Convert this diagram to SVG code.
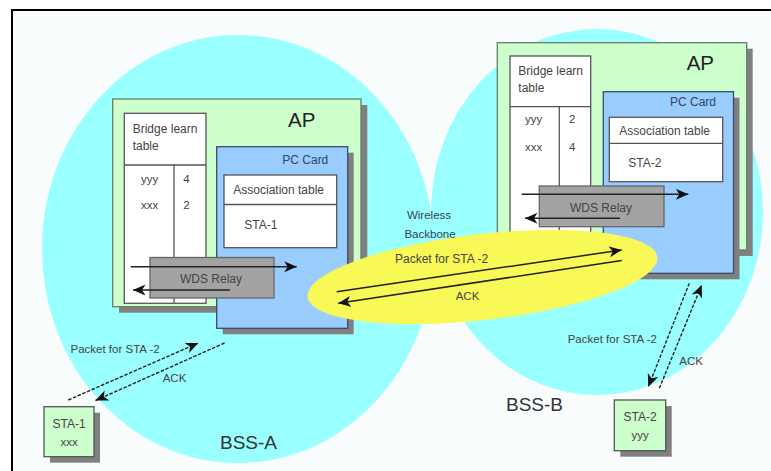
<svg xmlns="http://www.w3.org/2000/svg" width="771" height="471" viewBox="0 0 771 471">
<style>
.t{font-family:"Liberation Sans",Arial,sans-serif;fill:#444;}
.s12{font-size:12px;}
.s11{font-size:11.5px;}
.big{font-size:20.5px;fill:#222;}
.bss{font-size:19px;fill:#333;}
.sh{fill:#808080;}
.ap{fill:#ccffcc;stroke:#6b7b6b;stroke-width:1.3;}
.pc{fill:#99ccff;stroke:#3a4a6a;stroke-width:1.3;}
.tb{fill:#ffffff;stroke:#555;stroke-width:1.3;}
.ln{stroke:#555;stroke-width:1.3;fill:none;}
.wds{fill:#a3a3a3;stroke:#666;stroke-width:1.3;}
.sta{fill:#ccffcc;stroke:#555;stroke-width:1.3;}
.ar{stroke:#222;stroke-width:1.5;fill:none;marker-end:url(#ah);}
.da{stroke:#222;stroke-width:1.4;fill:none;stroke-dasharray:3.5 1.6;marker-end:url(#ah);}
.pc-t{fill:#334466;}
.wb{fill:#334455;}
</style>
<defs>
<marker id="ah" markerUnits="userSpaceOnUse" markerWidth="14" markerHeight="12" refX="12.5" refY="5.5" orient="auto">
<path d="M0,0 L12.5,5.5 L0,11 L3.5,5.5 z" fill="#111"/>
</marker>
</defs>
<rect x="0" y="0" width="771" height="471" fill="#ffffff"/>
<rect x="12" y="10" width="759" height="461" fill="#f8fcfc"/>
<g id="bss-a"><ellipse cx="238" cy="249" rx="196" ry="214" fill="#99ffff"/></g>
<g id="bss-b"><ellipse cx="597" cy="212" rx="166" ry="183" fill="#99ffff"/></g>
<path d="M12,471 L12,10 L771,10" fill="none" stroke="#000" stroke-width="2"/>

<g id="ap-a">
<rect class="sh" x="119" y="105" width="248.3" height="207.7"/>
<rect class="ap" x="112.7" y="99" width="248.3" height="207.7"/>
<text class="t big" x="301.7" y="127.3" text-anchor="middle">AP</text>
<g id="learn-a">
<rect class="tb" x="124.3" y="113.3" width="81.7" height="190"/>
<line class="ln" x1="124.3" y1="165" x2="206" y2="165"/>
<line class="ln" x1="174" y1="165" x2="174" y2="303.3"/>
<text class="t s12" x="132.7" y="132.7">Bridge learn</text>
<text class="t s12" x="132.7" y="150">table</text>
<text class="t s11" x="141" y="183.3">yyy</text>
<text class="t s11" x="183.3" y="183.3">4</text>
<text class="t s11" x="141" y="209">xxx</text>
<text class="t s11" x="183.3" y="209">2</text>
</g>
<g id="pc-a">
<rect class="sh" x="222.7" y="152.7" width="131" height="181.6"/>
<rect class="pc" x="216.7" y="146.7" width="131" height="181.6"/>
<text class="t s12 pc-t" x="328.3" y="164" text-anchor="end">PC Card</text>
<rect class="tb" x="224" y="175" width="112.7" height="72.7"/>
<line class="ln" x1="224" y1="204.5" x2="336.7" y2="204.5"/>
<text class="t s12" x="233.3" y="194.3">Association table</text>
<text class="t s12" x="244.3" y="229.3">STA-1</text>
</g>
</g>

<g id="ap-b">
<rect class="sh" x="503.3" y="48.7" width="249.4" height="207.3"/>
<rect class="ap" x="497.3" y="42.7" width="249.4" height="207.3"/>
<text class="t big" x="686.7" y="70">AP</text>
<g id="learn-b">
<rect class="tb" x="510" y="56" width="80.7" height="187"/>
<line class="ln" x1="510" y1="106.7" x2="590.7" y2="106.7"/>
<line class="ln" x1="559.3" y1="106.7" x2="559.3" y2="243"/>
<text class="t s12" x="518.3" y="75">Bridge learn</text>
<text class="t s12" x="518.3" y="91.7">table</text>
<text class="t s11" x="525" y="122.5">yyy</text>
<text class="t s11" x="569" y="122.5">2</text>
<text class="t s11" x="525" y="151">xxx</text>
<text class="t s11" x="569" y="151">4</text>
</g>
<g id="pc-b">
<rect class="sh" x="609.3" y="97.7" width="130.2" height="181.6"/>
<rect class="pc" x="603.3" y="91.7" width="130.2" height="181.6"/>
<text class="t s12 pc-t" x="716" y="106" text-anchor="end">PC Card</text>
<rect class="tb" x="609.3" y="117.3" width="113.4" height="64.4"/>
<line class="ln" x1="609.3" y1="143.3" x2="722.7" y2="143.3"/>
<text class="t s12" x="619.3" y="135">Association table</text>
<text class="t s12" x="628.3" y="166.7">STA-2</text>
</g>
</g>

<g id="wds-a">
<rect class="wds" x="150" y="257.5" width="124" height="40.5"/>
<text class="t s12" x="211" y="282.7" text-anchor="middle">WDS Relay</text>
</g>
<g id="wds-b">
<rect class="wds" x="539.3" y="186" width="124.7" height="40.7"/>
<text class="t s12" x="601" y="211.7" text-anchor="middle">WDS Relay</text>
</g>

<g id="backbone">
<ellipse cx="482.5" cy="277" rx="176" ry="43" transform="rotate(-6.5 482.5 277)" fill="#f8f856"/>
<text class="t s11 wb" x="429" y="219.3" text-anchor="middle">Wireless</text>
<text class="t s11 wb" x="430" y="237.5" text-anchor="middle">Backbone</text>
</g>

<g id="sta-1">
<rect class="sh" x="50" y="412.7" width="50" height="50"/>
<rect class="sta" x="44" y="406.7" width="50" height="50"/>
<text class="t s12" x="69" y="428" text-anchor="middle">STA-1</text>
<text class="t s11" x="69" y="445.5" text-anchor="middle">xxx</text>
</g>
<g id="sta-2">
<rect class="sh" x="620.3" y="406" width="51.4" height="50.7"/>
<rect class="sta" x="614.3" y="400" width="51.4" height="50.7"/>
<text class="t s12" x="640" y="421" text-anchor="middle">STA-2</text>
<text class="t s11" x="640" y="439" text-anchor="middle">yyy</text>
</g>

<g id="labels">
<text class="t s12" x="395" y="263.3">Packet for STA -2</text>
<text class="t s11" x="455.7" y="300">ACK</text>
<text class="t s11" x="70.5" y="352.7">Packet for STA -2</text>
<text class="t s11" x="162.7" y="381.7">ACK</text>
<text class="t s11" x="567.7" y="342.7">Packet for STA -2</text>
<text class="t s11" x="679.3" y="365">ACK</text>
<text class="t bss" x="220" y="449">BSS-A</text>
<text class="t bss" x="506" y="411">BSS-B</text>
</g>

<g id="connectors">
<line class="ar" x1="130.7" y1="266.7" x2="296.7" y2="266.7"/>
<line class="ar" x1="230" y1="290" x2="133" y2="290"/>
<line class="ar" x1="521.7" y1="194.3" x2="688.3" y2="194.3"/>
<line class="ar" x1="620" y1="218.3" x2="525" y2="218.3"/>
<line class="ar" x1="336.7" y1="291.7" x2="621.7" y2="250"/>
<line class="ar" x1="621.7" y1="260.5" x2="338.3" y2="303.3"/>
<line class="da" x1="68.3" y1="400" x2="198.3" y2="343"/>
<line class="da" x1="224.5" y1="343" x2="95.5" y2="400.5"/>
<line class="da" x1="689.3" y1="283.3" x2="648.3" y2="386.7"/>
<line class="da" x1="659.3" y1="388.3" x2="701.7" y2="285"/>
</g>
</svg>
